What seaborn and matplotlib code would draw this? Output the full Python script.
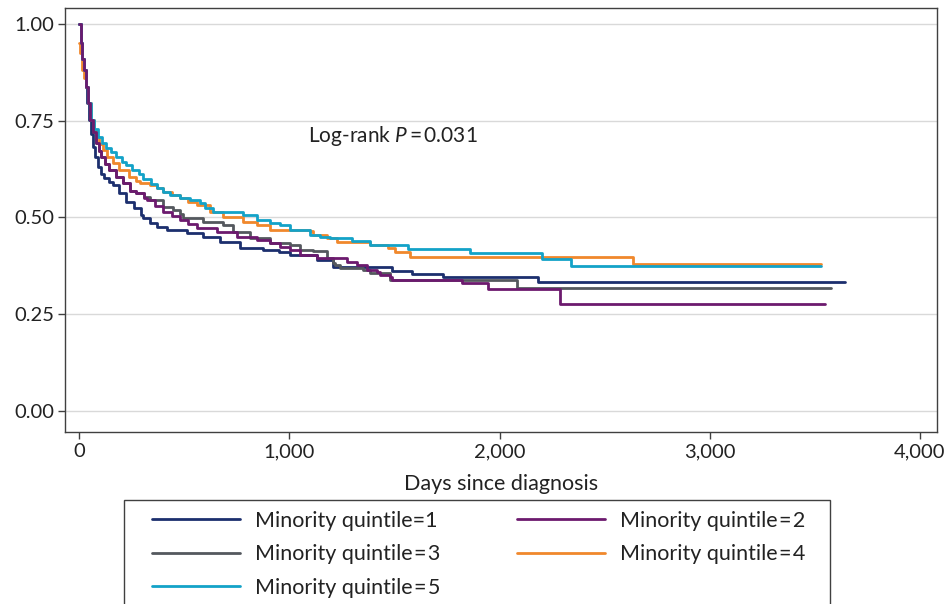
import numpy as np
import pandas as pd
import matplotlib
matplotlib.use("Agg")
import matplotlib.pyplot as plt
import seaborn as sns
from matplotlib.patches import Rectangle
from matplotlib.ticker import FuncFormatter

# Kaplan-Meier estimates (days, survival)
q1_days = [0, 8, 16, 24, 33, 40, 46, 55, 65, 77, 89, 104, 119, 140, 160, 190, 224, 262,
           295, 304, 338, 371, 419, 514, 590, 671, 766, 875, 950, 1004, 1132, 1208, 1489,
           1584, 1731, 2183, 3643]
q1_surv = [1.0, 0.95, 0.91, 0.881, 0.837, 0.796, 0.752, 0.715, 0.682, 0.655, 0.630, 0.612,
           0.602, 0.592, 0.584, 0.563, 0.540, 0.525, 0.506, 0.499, 0.487, 0.475, 0.468,
           0.460, 0.450, 0.437, 0.421, 0.416, 0.411, 0.403, 0.390, 0.372, 0.362, 0.354,
           0.346, 0.333, 0.333]

q2_days = [0, 8, 16, 24, 33, 41, 52, 65, 81, 93, 105, 125, 143, 175, 208, 243, 271, 309,
           323, 360, 400, 440, 480, 520, 561, 656, 751, 847, 908, 956, 1004, 1051, 1132,
           1275, 1322, 1370, 1417, 1432, 1479, 1489, 1822, 1945, 2288, 3548]
q2_surv = [1.0, 0.95, 0.91, 0.881, 0.837, 0.796, 0.752, 0.72, 0.692, 0.672, 0.656, 0.638,
           0.623, 0.605, 0.589, 0.568, 0.562, 0.550, 0.545, 0.530, 0.514, 0.503, 0.494,
           0.483, 0.473, 0.463, 0.450, 0.442, 0.434, 0.424, 0.416, 0.403, 0.395, 0.385,
           0.377, 0.364, 0.359, 0.351, 0.346, 0.338, 0.331, 0.315, 0.276, 0.276]

q3_days = [0, 8, 16, 24, 33, 41, 52, 65, 81, 93, 105, 125, 143, 175, 208, 243, 271, 309,
           338, 400, 447, 480, 495, 590, 685, 732, 813, 908, 1004, 1051, 1113, 1179, 1208,
           1218, 1241, 1351, 1384, 1479, 2083, 3577]
q3_surv = [1.0, 0.95, 0.91, 0.881, 0.837, 0.796, 0.752, 0.72, 0.692, 0.672, 0.656, 0.638,
           0.623, 0.605, 0.589, 0.568, 0.562, 0.552, 0.545, 0.527, 0.519, 0.510, 0.499,
           0.488, 0.481, 0.463, 0.447, 0.434, 0.429, 0.416, 0.413, 0.395, 0.382, 0.377,
           0.370, 0.364, 0.357, 0.338, 0.319, 0.319]

q4_days = [0, 5, 16, 24, 33, 41, 57, 70, 81, 97, 113, 135, 160, 190, 238, 270, 290, 338,
           370, 400, 440, 480, 520, 561, 623, 685, 780, 847, 908, 1099, 1113, 1179, 1227,
           1384, 1470, 1503, 1574, 2635, 3529]
q4_surv = [0.951, 0.925, 0.88, 0.86, 0.837, 0.796, 0.752, 0.725, 0.708, 0.69, 0.674,
           0.655, 0.641, 0.623, 0.605, 0.595, 0.589, 0.584, 0.575, 0.566, 0.558, 0.550,
           0.540, 0.532, 0.514, 0.501, 0.488, 0.481, 0.468, 0.465, 0.455, 0.447, 0.437,
           0.429, 0.421, 0.411, 0.398, 0.380, 0.380]

q5_days = [0, 8, 16, 24, 33, 41, 57, 70, 89, 108, 128, 150, 176, 205, 225, 250, 285, 304,
           340, 371, 400, 433, 480, 528, 575, 600, 637, 780, 847, 908, 956, 1004, 1099, 1146,
           1194, 1300, 1384, 1565, 1860, 2202, 2340, 3529]
q5_surv = [1.0, 0.95, 0.91, 0.881, 0.837, 0.796, 0.752, 0.728, 0.708, 0.692, 0.680, 0.668,
           0.656, 0.643, 0.635, 0.622, 0.612, 0.600, 0.586, 0.576, 0.566, 0.558, 0.550,
           0.545, 0.537, 0.525, 0.514, 0.506, 0.494, 0.486, 0.481, 0.468, 0.455, 0.450,
           0.447, 0.440, 0.429, 0.419, 0.408, 0.393, 0.375, 0.375]

groups = ["Minority quintile\u200a=\u200a%d" % i for i in range(1, 6)]
groups[0] = "Minority quintile=1"
colors = ["#1c2f6e", "#6c1a6e", "#54585e", "#f0882c", "#13a2c8"]

x_ticks = [0, 1000, 2000, 3000, 4000]
y_ticks = [0.0, 0.25, 0.5, 0.75, 1.0]

rows = []
all_days = [q1_days, q2_days, q3_days, q4_days, q5_days]
all_surv = [q1_surv, q2_surv, q3_surv, q4_surv, q5_surv]
for label, days, surv in zip(groups, all_days, all_surv):
    for d, s in zip(days, surv):
        rows.append({"days": d, "surv": s, "group": label})
df = pd.DataFrame(rows)

sns.set_theme(style="white")
plt.rcParams["font.family"] = ["Lato", "DejaVu Sans"]
plt.rcParams["mathtext.fontset"] = "custom"
plt.rcParams["mathtext.rm"] = "Lato"
plt.rcParams["mathtext.it"] = "Lato:italic"

text_color = "#222222"
edge_color = "#404040"

fig = plt.figure(figsize=(9.45, 6.04), dpi=100)
ax = fig.add_axes([65 / 945, 1 - 432 / 604, 872 / 945, 424 / 604])

sns.lineplot(data=df, x="days", y="surv", hue="group", hue_order=groups,
             palette=colors, drawstyle="steps-post", estimator=None, sort=False,
             linewidth=2.0, ax=ax)
# purple sits over grey in the early, overlapping part
ax.lines[1].set_zorder(2.6)

ax.set_xlim(-67, 4081)
ax.set_ylim(-0.054, 1.041)
ax.set_xticks(x_ticks)
ax.set_yticks(y_ticks)
ax.xaxis.set_major_formatter(FuncFormatter(lambda v, p: f"{v:,.0f}"))
ax.yaxis.set_major_formatter(FuncFormatter(lambda v, p: f"{v:.2f}"))
ax.tick_params(direction="out", length=5, width=1, color=edge_color,
               labelsize=14.5, labelcolor=text_color, pad=3, left=True, bottom=True)
ax.yaxis.grid(True, color="#d9d9d9", linewidth=1)
ax.set_axisbelow(True)
for sp in ax.spines.values():
    sp.set_color(edge_color)
    sp.set_linewidth(1)

ax.set_xlabel("Days since diagnosis", fontsize=15.5, color=text_color, labelpad=10)
ax.set_ylabel("")

ax.text(1089, 0.71, "Log-rank $P$\u2009=\u20090.031", fontsize=15,
        color=text_color, va="center", ha="left")

handles, labels = ax.get_legend_handles_labels()
ax.get_legend().remove()
order = [0, 2, 4, 1, 3]
fig.legend([handles[i] for i in order], [labels[i] for i in order], ncol=2,
           frameon=False, loc="upper left", bbox_to_anchor=(152 / 945, 1 - 511 / 604),
           borderpad=0, borderaxespad=0, handlelength=4.1, handletextpad=0.7,
           columnspacing=3.55, labelspacing=0.62, fontsize=15.5, labelcolor=text_color)
fig.add_artist(Rectangle((124 / 945, -0.1), 706 / 945, 0.1 + 1 - 500 / 604,
                         transform=fig.transFigure, fill=False,
                         edgecolor=edge_color, linewidth=1))

fig.savefig("out.png", dpi=100)
